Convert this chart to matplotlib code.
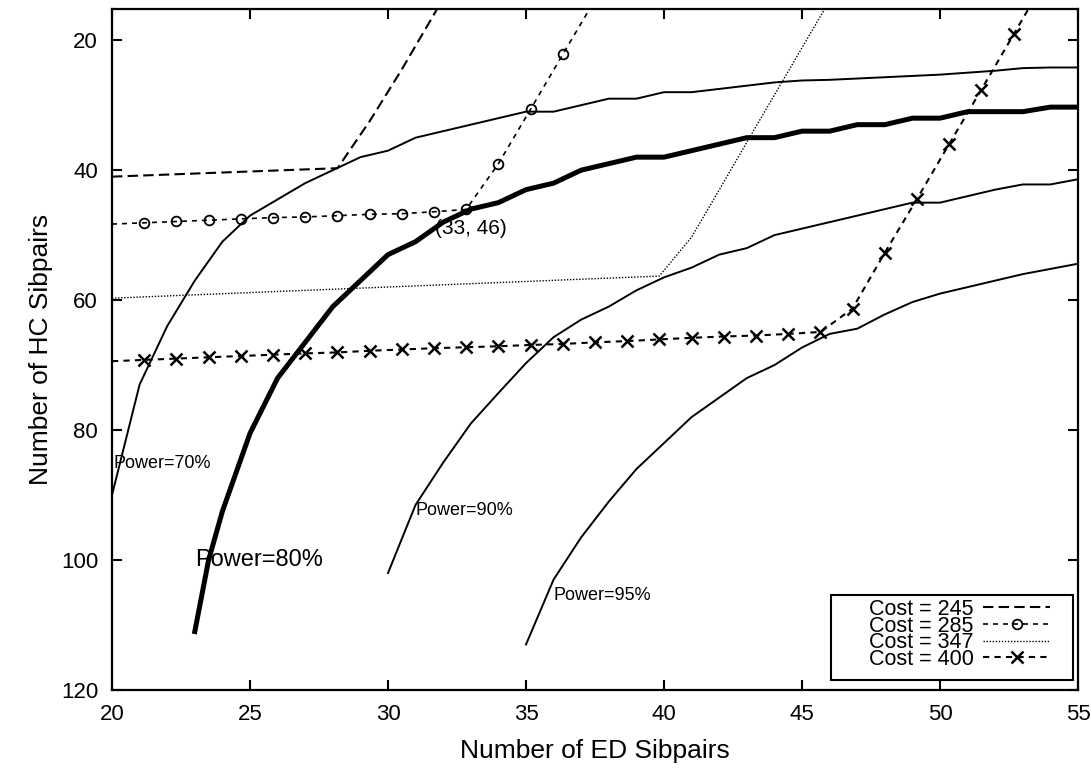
import matplotlib
matplotlib.use("Agg")
import matplotlib.pyplot as plt
from matplotlib.patches import Rectangle

plt.rcParams['font.family'] = ['Liberation Sans', 'DejaVu Sans']

# ---------------- data ----------------
p70_x = [20, 21, 22, 23, 24, 25, 26, 27, 28, 29, 30, 31, 32, 33, 34, 35, 36, 37, 38, 39,
         40, 41, 42, 43, 44, 45, 46, 47, 48, 49, 50, 51, 52, 53, 54, 55]
p70_y = [90, 73, 64, 57, 51, 47, 44.5, 42, 40, 38, 37, 35, 34, 33, 32, 31, 31, 30, 29, 29,
         28, 28, 27.5, 27, 26.5, 26.2, 26.1, 25.9, 25.7, 25.5, 25.3, 25.0, 24.7, 24.3, 24.2, 24.2]

p80_x = [23, 23.5, 24, 25, 26, 27, 28, 29, 30, 31, 32, 33, 34, 35, 36, 37, 38, 39,
         40, 41, 42, 43, 44, 45, 46, 47, 48, 49, 50, 51, 52, 53, 54, 55]
p80_y = [111, 100, 92.5, 80.5, 72, 66.5, 61, 57, 53, 51, 48, 46, 45, 43, 42, 40, 39, 38,
         38, 37, 36, 35, 35, 34, 34, 33, 33, 32, 32, 31, 31, 31, 30.3, 30.3]

p90_x = [30, 31, 32, 33, 34, 35, 36, 37, 38, 39, 40, 41, 42, 43, 44, 45, 46, 47, 48, 49,
         50, 51, 52, 53, 54, 55]
p90_y = [102, 91.5, 85, 79, 74.3, 69.7, 65.7, 63, 61, 58.5, 56.5, 55, 53, 52, 50, 49, 48, 47,
         46, 45, 45, 44, 43, 42.2, 42.2, 41.4]

p95_x = [35, 36, 37, 38, 39, 40, 41, 42, 43, 44, 45, 46, 47, 48, 49, 50, 51, 52, 53, 54, 55]
p95_y = [113, 103, 96.5, 91, 86, 82, 78, 75, 72, 70, 67.3, 65.2, 64.4, 62.2, 60.3, 59, 58, 57,
         56, 55.2, 54.4]

c245_x = [20, 28.17, 29.33, 30.5, 31.67, 32.83]
c245_y = [41.0, 39.7, 32.5, 24.5, 16.0, 7.5]

c285_x = [20, 21.17, 22.33, 23.5, 24.67, 25.83, 27.0, 28.17, 29.33, 30.5, 31.67, 32.83,
          34.0, 35.17, 36.33, 37.5]
c285_y = [48.3, 48.1, 47.9, 47.7, 47.5, 47.3, 47.2, 47.0, 46.8, 46.7, 46.4, 46.05,
          39.0, 30.6, 22.2, 13.8]

c347_x = [20, 39.83, 41.0, 42.17, 43.33, 44.5, 45.67, 46.83]
c347_y = [59.7, 56.3, 50.3, 41.8, 33.3, 24.8, 16.3, 7.8]

c400_x = [20, 21.17, 22.33, 23.5, 24.67, 25.83, 27.0, 28.17, 29.33, 30.5, 31.67, 32.83,
          34.0, 35.17, 36.33, 37.5, 38.67, 39.83, 41.0, 42.17, 43.33, 44.5, 45.67, 46.83,
          48.0, 49.17, 50.33, 51.5, 52.67, 53.83]
c400_y = [69.4, 69.2, 69.0, 68.8, 68.6, 68.4, 68.2, 68.05, 67.8, 67.6, 67.4, 67.25,
          67.1, 66.9, 66.75, 66.5, 66.3, 66.05, 65.8, 65.6, 65.45, 65.2, 64.9, 61.3,
          52.7, 44.4, 36.0, 27.6, 19.1, 10.6]

cost_labels = ["Cost = 245", "Cost = 285", "Cost = 347", "Cost = 400"]
power_labels = ["Power=70%", "Power=80%", "Power=90%", "Power=95%"]
power_label_pos = [(20.05, 85.2), (23.0, 100.0), (31.0, 92.3), (36.0, 105.4)]
point_label = "(33, 46)"
point_label_pos = (31.7, 49.0)

x_ticks = [20, 25, 30, 35, 40, 45, 50, 55]
y_ticks = [20, 40, 60, 80, 100, 120]

# ---------------- figure ----------------
W, H = 1091, 769
fig = plt.figure(figsize=(W / 100, H / 100), dpi=100)
ax = fig.add_axes([112 / W, (H - 690) / H, 966 / W, 681 / H])

ax.plot(p70_x, p70_y, color='black', lw=1.4)
ax.plot(p80_x, p80_y, color='black', lw=3.6)
ax.plot(p90_x, p90_y, color='black', lw=1.4)
ax.plot(p95_x, p95_y, color='black', lw=1.4)

ax.plot(c245_x, c245_y, color='black', lw=1.5, linestyle=(0, (5, 2.5)), label=cost_labels[0])
ax.plot(c285_x, c285_y, color='black', lw=1.2, linestyle=(0, (3, 3)), marker='o',
        markersize=7, mfc='none', mew=1.3, markevery=slice(1, None), label=cost_labels[1])
ax.plot(c347_x, c347_y, color='black', lw=1.0, linestyle=(0, (1, 1.2)), label=cost_labels[2])
ax.plot(c400_x, c400_y, color='black', lw=1.5, linestyle=(0, (3, 2.5)), marker='x',
        markersize=8, mew=1.8, markevery=slice(1, None), label=cost_labels[3])

for lab, (tx, ty), fs in zip(power_labels, power_label_pos, [13, 17, 13, 13]):
    ax.text(tx, ty, lab, fontsize=fs, ha='left', va='center')
ax.text(point_label_pos[0], point_label_pos[1], point_label, fontsize=15, ha='left', va='center')

ax.set_xlim(20, 55)
ax.set_ylim(120, 15.2)
ax.set_xticks(x_ticks)
ax.set_yticks(y_ticks)
ax.tick_params(direction='in', length=7, width=1.5, top=True, right=True,
               labelsize=16, pad=10)
for s in ax.spines.values():
    s.set_linewidth(1.6)

ax.set_xlabel("Number of ED Sibpairs", fontsize=19, labelpad=10)
ax.set_ylabel("Number of HC Sibpairs", fontsize=19, labelpad=6)

leg = ax.legend(loc='lower right', bbox_to_anchor=(0.971, 0.0295), borderaxespad=0,
                markerfirst=False, frameon=False,
                fontsize=15.5, handlelength=3.1, labelspacing=-0.2, handletextpad=0.45,
                borderpad=0)
# legend frame (layout decoration, in axes fraction)
ax.add_patch(Rectangle((0.744, 0.0147), 0.251, 0.125, transform=ax.transAxes,
                       fill=False, edgecolor='black', lw=1.5, zorder=5))

fig.savefig("out.png", dpi=100)
